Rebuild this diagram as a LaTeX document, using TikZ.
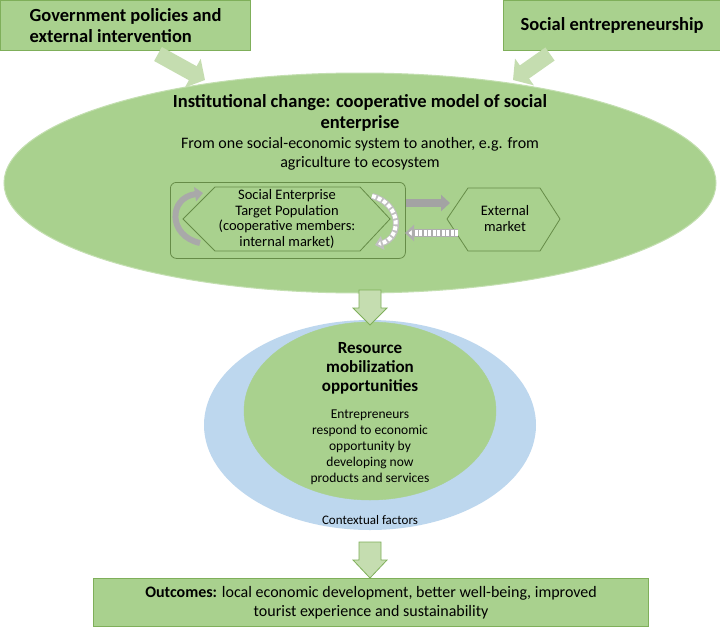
\documentclass[tikz,border=0pt]{standalone}
\usepackage{fontspec}
\setmainfont{Carlito}
\usetikzlibrary{shapes.geometric,arrows.meta}
\definecolor{gfill}{HTML}{A9D18E}
\definecolor{gline}{HTML}{7FAF5A}
\definecolor{bfill}{HTML}{BDD7EE}
\definecolor{garr}{HTML}{C5DDB0}
\definecolor{grey}{HTML}{8C8C8C}
\begin{document}
\begin{tikzpicture}[x=1pt,y=-1pt,
  box/.style={draw=gline,line width=1.2pt,fill=gfill,inner sep=0pt},
  fat/.style={-{Triangle[length=14pt,width=32pt]},line width=16pt,garr},
  down/.style={fill=garr,draw=gline,line width=0.8pt},
  hex/.style={draw=gline!80!black,line width=0.8pt}]
\useasboundingbox (0,0) rectangle (720,632);
\fill[white] (0,0) rectangle (720,632);
% top boxes
\node[box,minimum width=250,minimum height=50,anchor=north west,align=left,font=\bfseries\fontsize{18.5}{21}\selectfont] (gov) at (0,0) {Government policies and\\external intervention};
\node[box,minimum width=217,minimum height=50,anchor=north west,font=\bfseries\fontsize{18.5}{21}\selectfont] (soc) at (503,0) {Social entrepreneurship};
% big ellipse
\node[ellipse,fill=gfill,draw=gfill!70!white,line width=1pt,minimum width=712,minimum height=220] (inst) at (360,183) {};
\node[coordinate] (a1s) at (158,54) {};
\node[coordinate] (a1e) at (205,80) {};
\node[coordinate] (a2s) at (550,54) {};
\node[coordinate] (a2e) at (513,80) {};
\draw[fat] (a1s) -- (a1e);
\draw[fat] (a2s) -- (a2e);
\node[align=center,font=\bfseries\fontsize{18.5}{21}\selectfont] (t1) at (360,113) {Institutional change: cooperative model of social\\enterprise};
\node[align=center,font=\fontsize{16}{19}\selectfont] (t2) at (360,154) {From one social-economic system to another, e.g. from\\agriculture to ecosystem};
% inner
\node[draw=gline!80!black,line width=0.8pt,rounded corners=6pt,minimum width=235,minimum height=76,anchor=north west] (frame) at (170,182) {};
\draw[hex] (183,219) -- (215,187) -- (360,187) -- (390,219) -- (360,251) -- (215,251) -- cycle;
\node[align=center,font=\fontsize{14.5}{15.5}\selectfont] (se) at (287,219) {Social Enterprise\\Target Population\\(cooperative members:\\internal market)};
\draw[hex] (447,219) -- (468,188) -- (540,188) -- (560,219) -- (540,251) -- (468,251) -- cycle;
\node[align=center,font=\fontsize{14.5}{16}\selectfont] (ext) at (505,219) {External\\market};
\node[coordinate] (p1) at (406,203) {};
\node[coordinate] (p2) at (450,203) {};
\node[coordinate] (p3) at (458,233) {};
\node[coordinate] (p4) at (405,233) {};
\draw[-{Triangle[length=9pt,width=16pt]},line width=8pt,grey!80] (p1) -- (p2);
\draw[-{Triangle[length=9pt,width=16pt,fill=white]},line width=8pt,grey!70] (p3) -- (p4);
\draw[line width=6pt,white,dash pattern=on 3pt off 1.5pt,shorten >=8pt] (p3) -- (p4);
\node[coordinate] (c1) at (200,243) {};
\node[coordinate] (c2) at (203,193) {};
\draw[-{Triangle[length=8pt,width=14pt]},line width=6pt,grey!75] (c1) .. controls (168,236) and (168,198) .. (c2);
\node[coordinate] (c3) at (372,196) {};
\node[coordinate] (c4) at (375,245) {};
\draw[-{Triangle[length=8pt,width=14pt,fill=white]},line width=6pt,grey!55] (c3) .. controls (402,204) and (402,238) .. (c4);
\draw[line width=4pt,white,dash pattern=on 4pt off 2pt,shorten >=6pt] (c3) .. controls (402,204) and (402,238) .. (c4);
% resource
\node[ellipse,fill=bfill,minimum width=332,minimum height=210] (ring) at (370,425) {};
\node[ellipse,fill=gfill,draw=gfill,minimum width=252,minimum height=178] (res) at (370,411) {};
% down arrow 1
\draw[down] (359,290) -- (381,290) -- (381,308) -- (387,308) -- (370,325) -- (353,308) -- (359,308) -- cycle;
\node[align=center,font=\bfseries\fontsize{17}{19}\selectfont] (rt) at (370,368) {Resource\\mobilization\\opportunities};
\node[align=center,font=\fontsize{13.5}{16}\selectfont] (rb) at (370,447) {Entrepreneurs\\respond to economic\\opportunity by\\developing now\\products and services};
\node[font=\fontsize{13}{15}\selectfont] (ctx) at (370,520) {Contextual factors};
% down arrow 2
\draw[down] (359,542) -- (381,542) -- (381,560) -- (387,560) -- (370,578) -- (353,560) -- (359,560) -- cycle;
% outcomes
\node[box,minimum width=555,minimum height=48,anchor=north west,align=center,font=\fontsize{16}{19}\selectfont] (out) at (93,578) {\textbf{Outcomes:} local economic development, better well-being, improved\\tourist experience and sustainability};
\end{tikzpicture}
\end{document}
